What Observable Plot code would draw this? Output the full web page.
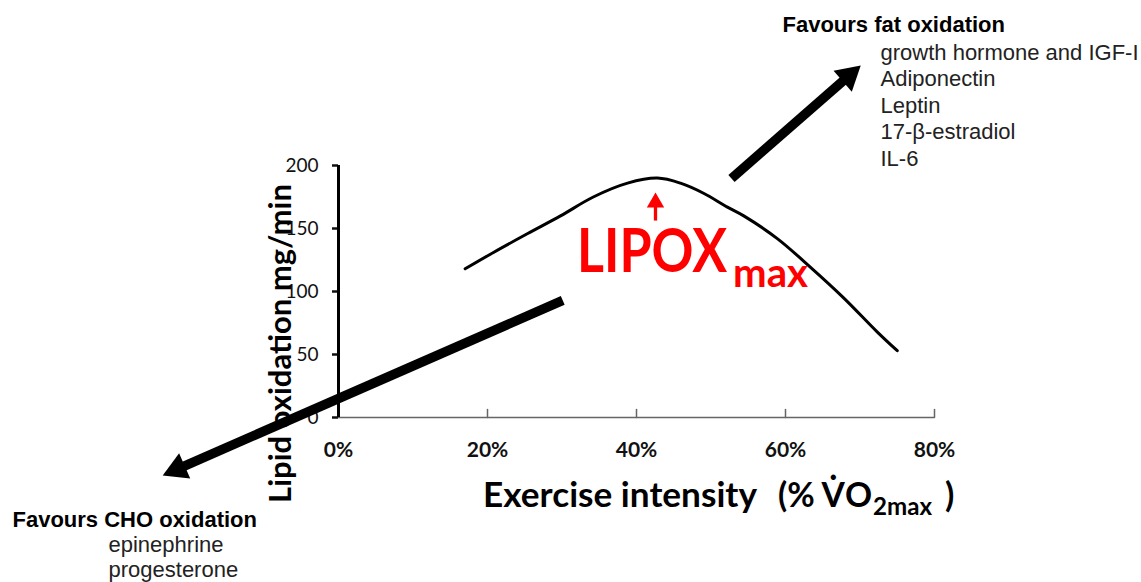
<!DOCTYPE html>
<html><head><meta charset="utf-8">
<script src="https://cdn.jsdelivr.net/npm/d3@7"></script>
<script src="https://cdn.jsdelivr.net/npm/@observablehq/plot@0.6"></script>
<style>html,body{margin:0;padding:0;background:#fff;} svg{display:block}</style>
</head><body><div id="chart"></div>
<script>
// ---- data ----
const intensity = [17, 20.8, 25.4, 29.8, 34.2, 38.8, 42.8, 45.9, 49, 52.2, 54.4, 58.9, 63.4, 67.8, 72.3, 75];
const lipidOx   = [118, 131, 146, 160, 175, 186, 190, 186, 178, 167, 160, 142, 119, 95, 68, 53];
const xTicks = [0, 20, 40, 60, 80];
const yTicks = [0, 50, 100, 150, 200];
// big schematic arrows (CHO, fat): tail -> tip in axis units
const arrowNames = ["CHO", "fat"];
const arrowX1 = [30.1, 52.75];
const arrowY1 = [92.9, 189.7];
const arrowX2 = [-23.6, 70.1];
const arrowY2 = [-46, 279.4];
// red LIPOXmax pointer
const peakX = [42.55];
const peakY1 = [156.3];
const peakY2 = [178.6];
const fatTitle = "Favours fat oxidation";
const fatItems = ["growth hormone and IGF-I", "Adiponectin", "Leptin", "17-\u03B2-estradiol", "IL-6"];
const choTitle = "Favours CHO oxidation";
const choItems = ["epinephrine", "progesterone"];
const yTitle = "Lipid oxidation mg/min";
const xTitleParts = ["Exercise intensity", "(% V\u0307O", "2max", ")"];
const peakLabelParts = ["LIPOX", "max"];

// ---- layout ----
const W = 1141, H = 582;
const mL = 338, mR = 207, mT = 165, mB = 165;
const xs = d3.scaleLinear([0, 80], [mL, W - mR]);
const ys = d3.scaleLinear([0, 200], [H - mB, mT]);
const bigHeadLen = 24, redHeadLen = 15;
const triR = len => (len / 3) * Math.sqrt(3 * Math.sqrt(3) / Math.PI);

function head(x1, y1, x2, y2, len) {
  const px1 = xs(x1), py1 = ys(y1), px2 = xs(x2), py2 = ys(y2);
  const L = Math.hypot(px2 - px1, py2 - py1);
  const ux = (px2 - px1) / L, uy = (py2 - py1) / L;
  return {
    x1, y1,
    sx: xs.invert(px2 - ux * len * 0.85), sy: ys.invert(py2 - uy * len * 0.85),
    cx: xs.invert(px2 - ux * len * 2 / 3), cy: ys.invert(py2 - uy * len * 2 / 3),
    rot: Math.atan2(ux, -uy) * 180 / Math.PI
  };
}

const curve = intensity.map((x, i) => ({x, y: lipidOx[i]}));
const bigHeads = arrowNames.map((n, i) => ({name: n, ...head(arrowX1[i], arrowY1[i], arrowX2[i], arrowY2[i], bigHeadLen)}));
const redHead = peakX.map((x, i) => head(x, peakY1[i], x, peakY2[i], redHeadLen));

const tickShape = {draw(ctx, l) { ctx.moveTo(0, 0); ctx.lineTo(0, -l); }};

const plot = Plot.plot({
  width: W, height: H,
  marginLeft: mL, marginRight: mR, marginTop: mT, marginBottom: mB,
  x: {domain: [0, 80]},
  y: {domain: [0, 200]},
  style: {fontFamily: "Lato", background: "white", overflow: "visible"},
  marks: [
    Plot.ruleY([0], {stroke: "#666", strokeWidth: 1.5}),
    Plot.vector(xTicks.slice(1), {x: d => d, y: 0, length: 8, anchor: "start", shape: tickShape, stroke: "#666", strokeWidth: 1.5}),
    Plot.axisX(xTicks, {tickSize: 0, tickPadding: 25, tickFormat: d => d + "%", fontSize: 21, fontWeight: "bold", fontFamily: "Lato", color: "#111", label: null}),
    Plot.axisY(yTicks, {tickSize: 6, tickPadding: 14, strokeWidth: 2.5, fontSize: 19, fontFamily: "Lato", color: "#111", label: null}),
    Plot.ruleX([0], {stroke: "black", strokeWidth: 3}),
    Plot.line(curve, {x: "x", y: "y", curve: "catmull-rom", stroke: "black", strokeWidth: 3}),
    // big arrows
    Plot.link(bigHeads, {x1: "x1", y1: "y1", x2: "sx", y2: "sy", stroke: "black", strokeWidth: 9.5, strokeLinecap: "butt"}),
    Plot.dot(bigHeads, {x: "cx", y: "cy", symbol: "triangle", r: triR(bigHeadLen), rotate: "rot", fill: "black", stroke: null}),
    // red arrow
    Plot.link(redHead, {x1: "x1", y1: "y1", x2: "sx", y2: "sy", stroke: "#ff0000", strokeWidth: 3.3}),
    Plot.dot(redHead, {x: "cx", y: "cy", symbol: "triangle", r: triR(redHeadLen), rotate: "rot", fill: "#ff0000", stroke: null}),
    // y title
    Plot.text([yTitle], {frameAnchor: "left", dx: -48, dy: 52, rotate: -90, lineAnchor: "bottom", textAnchor: "middle", fontSize: 31, fontWeight: "bold", fontFamily: "Lato", fill: "black"}),
    // annotations
    Plot.text([fatTitle], {frameAnchor: "top-left", dx: 444, dy: -134, lineAnchor: "bottom", textAnchor: "start", fontSize: 22, fontWeight: "bold", fontFamily: "Liberation Sans", fill: "black"}),
    ...fatItems.map((t, i) => Plot.text([t], {frameAnchor: "top-left", dx: 542, dy: -106 + i * 26.5, lineAnchor: "bottom", textAnchor: "start", fontSize: 22, fontFamily: "Liberation Sans", fill: "#222"})),
    Plot.text([choTitle], {frameAnchor: "top-left", dx: -326, dy: 361, lineAnchor: "bottom", textAnchor: "start", fontSize: 22, fontWeight: "bold", fontFamily: "Liberation Sans", fill: "black"}),
    ...choItems.map((t, i) => Plot.text([t], {frameAnchor: "top-left", dx: -230, dy: 386 + i * 25, lineAnchor: "bottom", textAnchor: "start", fontSize: 22, fontFamily: "Liberation Sans", fill: "#222"}))
  ]
});
document.getElementById("chart").append(plot);

const svg = d3.select(plot);
// one <text> per label, with positioned tspans (main text + subscript)
function addLabel(parts, fill) {
  const t = svg.append("text").attr("text-anchor", "start")
    .attr("font-family", "Lato").attr("font-weight", "bold").attr("fill", fill);
  parts.forEach(p => {
    const s = t.append("tspan").attr("x", p.x).attr("y", p.y).attr("font-size", p.size).text(p.str);
    if (p.len) s.attr("textLength", p.len).attr("lengthAdjust", "spacingAndGlyphs");
  });
  return t;
}
addLabel([
  {str: xTitleParts[0], x: 483, y: 507, size: 34, len: 274},
  {str: xTitleParts[1], x: 778, y: 507, size: 34, len: 94},
  {str: xTitleParts[2], x: 873, y: 515, size: 25, len: 59},
  {str: xTitleParts[3], x: 945, y: 507, size: 34}
], "black");
addLabel([
  {str: peakLabelParts[0], x: 577, y: 272, size: 62, len: 150},
  {str: peakLabelParts[1], x: 733, y: 287, size: 40, len: 75}
], "#ff0000");
</script>
</body></html>
